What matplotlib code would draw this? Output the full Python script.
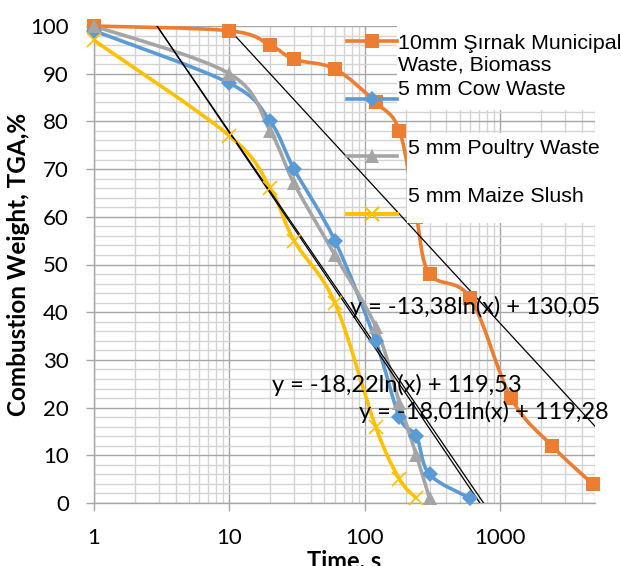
import numpy as np
import matplotlib
matplotlib.use("Agg")
import matplotlib.pyplot as plt
from matplotlib.path import Path
from matplotlib.patches import PathPatch, Rectangle
from matplotlib.lines import Line2D
from matplotlib.ticker import FixedLocator, MultipleLocator, NullFormatter

# data
t_sirnak = [1, 10, 20, 30, 60, 120, 180, 240, 300, 600, 1200, 2400, 4800]
w_sirnak = [100, 99, 96, 93, 91, 84, 78, 60, 48, 43, 22, 12, 4]

t_cow = [1, 10, 20, 30, 60, 120, 180, 240, 300, 600]
w_cow = [99, 88, 80, 70, 55, 34, 18, 14, 6, 1]

t_poultry = [1, 10, 20, 30, 60, 120, 180, 240, 300]
w_poultry = [100, 90, 78, 67, 52, 37, 21, 10, 1]

t_maize = [1, 10, 20, 30, 60, 120, 180, 240]
w_maize = [97, 77, 66, 55, 42, 16, 5, 1]

# trendlines as printed on the chart: y = a*ln(x) + b
trend_a = [-13.38, -18.22, -18.01]
trend_b = [130.05, 119.53, 119.28]
trend_labels = ["y = -13,38ln(x) + 130,05",
                "y = -18,22ln(x) + 119,53",
                "y = -18,01ln(x) + 119,28"]

names = ["10mm Şırnak Municipal\nWaste, Biomass", "5 mm Cow Waste",
         "5 mm Poultry Waste", "5 mm Maize Slush"]
colors = ["#ED7D31", "#5B9BD5", "#A5A5A5", "#FFC000"]

tick_font = "Lato"
text_font = "Liberation Sans"


def smooth_path(xs, ys):
    # excel style smoothed line, bezier built in (log x, y) space
    lx = np.log10(xs)
    y = np.asarray(ys, float)
    n = len(lx)
    verts = [(xs[0], y[0])]
    codes = [Path.MOVETO]
    for i in range(n - 1):
        p0 = (lx[max(i - 1, 0)], y[max(i - 1, 0)])
        p1 = (lx[i], y[i])
        p2 = (lx[i + 1], y[i + 1])
        p3 = (lx[min(i + 2, n - 1)], y[min(i + 2, n - 1)])
        c1 = (p1[0] + (p2[0] - p0[0]) / 6, p1[1] + (p2[1] - p0[1]) / 6)
        c2 = (p2[0] - (p3[0] - p1[0]) / 6, p2[1] - (p3[1] - p1[1]) / 6)
        for c in (c1, c2, p2):
            verts.append((10 ** c[0], c[1]))
            codes.append(Path.CURVE4)
    return Path(verts, codes)


fig = plt.figure(figsize=(6.21, 5.66), dpi=100)
ax = fig.add_axes([94 / 621, 1 - 503 / 566, 501 / 621, 477 / 566])
ax.set_xscale("log")
ax.set_xlim(1, 5000)
ax.set_ylim(0, 100)

# grid
ax.xaxis.set_major_locator(FixedLocator([1, 10, 100, 1000]))
ax.xaxis.set_minor_locator(FixedLocator([m * 10 ** d for d in range(4) for m in range(2, 10)
                                         if m * 10 ** d <= 5000]))
ax.xaxis.set_minor_formatter(NullFormatter())
ax.yaxis.set_major_locator(MultipleLocator(10))
ax.yaxis.set_minor_locator(MultipleLocator(2))
ax.grid(which="minor", color="#D4D4D4", lw=1.0, zorder=0)
ax.grid(which="major", color="#A6A6A6", lw=1.0, zorder=0)
ax.set_axisbelow(True)
ax.set_xticklabels(["1", "10", "100", "1000"])

for s in ["top", "right"]:
    ax.spines[s].set_visible(False)
for s in ["left", "bottom"]:
    ax.spines[s].set_color("#A6A6A6")
    ax.spines[s].set_linewidth(1.0)

ax.tick_params(which="major", direction="out", length=6, width=1, color="#A6A6A6",
               labelsize=16, pad=12)
ax.tick_params(which="minor", length=0)
for lab in ax.get_xticklabels() + ax.get_yticklabels():
    lab.set_fontfamily(tick_font)

# series
series = [(t_sirnak, w_sirnak, "s", 10), (t_cow, w_cow, "D", 8),
          (t_poultry, w_poultry, "^", 10), (t_maize, w_maize, "x", 10)]
handles = []
for (t, w, mk, ms), col in zip(series, colors):
    patch = PathPatch(smooth_path(t, w), fill=False, edgecolor=col, lw=2.6,
                      transform=ax.transData, clip_on=False, zorder=3)
    ax.add_patch(patch)
    mew = 1.2 if mk == "x" else 0
    ax.plot(t, w, ls="none", marker=mk, ms=ms, color=col, mew=mew,
            clip_on=False, zorder=4)
    handles.append(Line2D([], [], color=col, lw=2.6, marker=mk, ms=ms, mew=mew))

# trendlines
xt = np.logspace(0, np.log10(5000), 400)
for a, b in zip(trend_a, trend_b):
    ax.plot(xt, a * np.log(xt) + b, color="black", lw=0.9, zorder=3)

lab_pos = [(0.510, 0.411), (0.355, 0.247), (0.529, 0.191)]
for txt, (px, py) in zip(trend_labels, lab_pos):
    ax.text(px, py, txt, transform=ax.transAxes, ha="left", va="center",
            fontsize=17, family=tick_font, zorder=6)

# legend: white blocks behind the entry texts, keys and texts placed apart
for x0, y0, y1 in [(0.605, 0.824, 1.0), (0.625, 0.587, 0.776)]:
    ax.add_patch(Rectangle((x0, y0), 1.06 - x0, y1 - y0, transform=ax.transAxes,
                           facecolor="white", edgecolor="none", clip_on=False, zorder=5))

key_y = [0.966, 0.845, 0.725, 0.604]
for h, yy in zip(handles, key_y):
    leg = ax.legend([h], [""], loc="center left", bbox_to_anchor=(0.505, yy),
                    frameon=False, handlelength=2.4, handletextpad=0,
                    borderpad=0, borderaxespad=0, prop={"size": 15})
    leg.set_zorder(7)
    ax.add_artist(leg)

text_pos = [(0.607, 0.941), (0.607, 0.866), (0.626, 0.744), (0.626, 0.642)]
for name, (px, py) in zip(names, text_pos):
    ax.text(px, py, name, transform=ax.transAxes, ha="left", va="center",
            fontsize=15.4, family=text_font, linespacing=1.15, zorder=8)

ax.set_xlabel("Time, s", fontsize=17, fontweight="bold", family=tick_font, va="top")
ax.xaxis.set_label_coords(0.5, -0.097)
ax.set_ylabel("Combustion Weight, TGA,%", fontsize=17.5, fontweight="bold",
              family=tick_font, va="center")
ax.yaxis.set_label_coords(-0.15, 0.5)

fig.savefig("out.png", dpi=100)
